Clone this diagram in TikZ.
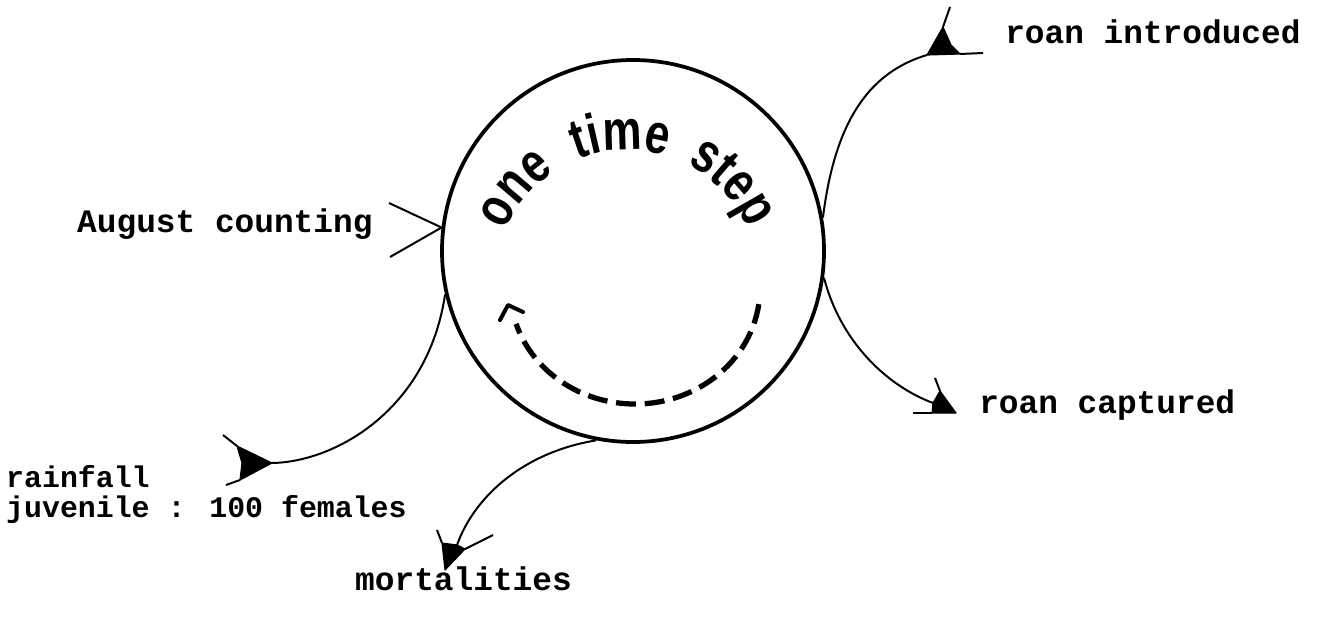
\documentclass[tikz,border=0pt]{standalone}
\usepackage{fontspec}
\newfontfamily\monof{Liberation Mono}
\newfontfamily\tallf[FakeStretch=0.78]{Liberation Sans}
\usetikzlibrary{decorations.text}
\newcommand{\otsfont}{\tallf\bfseries\fontsize{48}{48}\selectfont}
\begin{document}
\begin{tikzpicture}[x=0.03cm,y=0.03cm,
  lbl/.style={font=\monof\bfseries\fontsize{28}{30}\selectfont, anchor=base west, inner sep=0},
  lblsmall/.style={lbl, font=\monof\bfseries\fontsize{25.5}{30}\selectfont},
  flow/.style={line width=1.7pt, line join=round},
  headfill/.style={fill=black, draw=black, line width=1pt, line join=round},
  arctext/.style={decorate, decoration={text along path, text={|\otsfont|#1}}},
  loop/.style={line width=4.5pt, dash pattern=on 17pt off 7.5pt},
]
\useasboundingbox (0,0) rectangle (1328,-617);
\node[circle, draw, line width=3.2pt, minimum size=11.46cm, inner sep=0] (circ) at (633,-251) {};

% labels
\node[lbl] (intro) at (1005,-43) {roan introduced};
\node[lbl] (count) at (77,-232) {August counting};
\node[lbl] (capt) at (979,-413) {roan captured};
\node[lblsmall] (rain) at (6,-487) {rainfall};
\node[lblsmall] (juv) at (6,-517) {juvenile : 100 females};
\node[lbl] (mort) at (355,-590) {mortalities};

% free ends
\coordinate (tI) at (927,-55);
\coordinate (tR) at (272,-463);
\coordinate (tC) at (933,-403);
\coordinate (tM) at (457,-545);
\coordinate (aU) at (389,-203);
\coordinate (aD) at (390,-257);

% connectors
\draw[flow] (circ.10) .. controls (835,-120) and (870,-72) .. (tI);
\draw[flow] (circ.-8) .. controls (840,-340) and (885,-385) .. (tC);
\draw[flow] (circ.-101) .. controls (525,-452) and (475,-495) .. (tM);
\draw[flow] (circ.-167) .. controls (428,-410) and (335,-462) .. (tR);
\draw[flow] (aU) -- (circ.173) -- (aD);

% arrowheads: roan introduced
\fill[headfill] (tI) -- (943,-27) -- (951,-45) -- (960,-54) -- cycle;
\draw[flow] (950,-7) -- (943,-27);
\draw[flow] (960,-54) -- (983,-53);
% rainfall
\fill[headfill] (tR) -- (237,-446) -- (242,-463) -- (240,-480) -- cycle;
\draw[flow] (223,-435) -- (237,-446);
\draw[flow] (240,-480) -- (226,-485);
% roan captured
\fill[headfill] (tC) -- (940,-391) -- (956,-413) -- (932,-413) -- cycle;
\draw[flow] (935,-378) -- (940,-391);
\draw[flow] (932,-413) -- (913,-413);
% mortalities
\fill[headfill] (tM) -- (465,-549) -- (445,-570) -- (442,-543) -- cycle;
\draw[flow] (437,-530) -- (442,-543);
\draw[flow] (465,-549) -- (493,-535);

% dashed loop inside the circle
\draw[loop] (635,-288) ++(-8:125 and 116) arc[start angle=-8, end angle=-162, x radius=125, y radius=116];
\draw[line width=3.4pt, line join=round, line cap=round] (500,-320) -- (508,-305) -- (523,-312);

% curved title
\path[arctext={one}] (627,-282) ++(157:132) arc[start angle=157, end angle=100, radius=132];
\path[arctext={time}] (627,-282) ++(112:132) arc[start angle=112, end angle=50, radius=132];
\path[arctext={step}] (627,-282) ++(63:132) arc[start angle=63, end angle=-5, radius=132];
\end{tikzpicture}
\end{document}
